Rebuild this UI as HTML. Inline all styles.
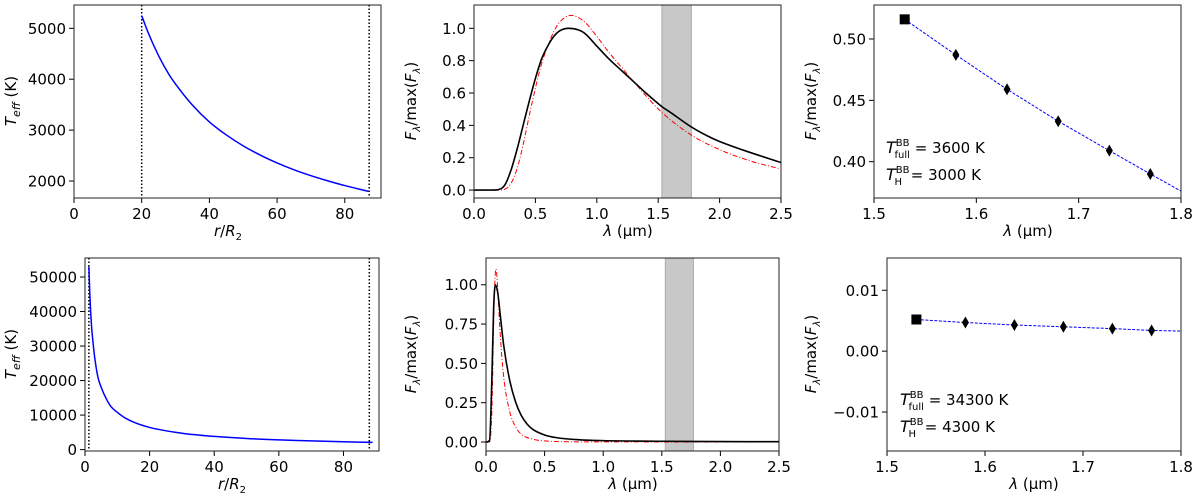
<!DOCTYPE html>
<html><head><meta charset="utf-8">
<style>
html,body{margin:0;padding:0;background:#fff;}
svg{display:block;font-family:"DejaVu Sans","Liberation Sans",sans-serif;}
</style></head>
<body>
<svg id="fig" width="1200" height="502" viewBox="0 0 1200 502" xmlns="http://www.w3.org/2000/svg"></svg>
<script>
// ---- data ----
const rTop = [20,22,25,28,30,35,40,45,50,55,60,65,70,75,80,87];
const tTop = [5250,4900,4460,4100,3905,3490,3160,2905,2690,2510,2355,2220,2105,2003,1910,1796];
const rBot = [1.2,1.5,2,2.5,3,4,5,6,8,10,12,15,20,30,40,50,60,70,80,89];
const tBot = [53000,44800,36100,30900,26700,21000,18100,15850,12500,10800,9420,7970,6420,4740,3820,3220,2820,2520,2280,2090];
const vlinesTop = [20,87.2];
const vlinesBot = [1.2,88];

const lamTopBlack = [0,0.15,0.2,0.25,0.3,0.35,0.4,0.45,0.5,0.55,0.6,0.65,0.7,0.77,0.85,0.9,1.0,1.1,1.2,1.3,1.4,1.53,1.6,1.77,1.9,2.0,2.2,2.5];
const fluxTopBlack = [0,0,0.003,0.03,0.12,0.25,0.40,0.55,0.69,0.81,0.89,0.95,0.985,1.0,0.99,0.97,0.89,0.81,0.74,0.67,0.60,0.516,0.48,0.39,0.335,0.30,0.245,0.17];
const lamTopRed = [0,0.2,0.25,0.3,0.35,0.4,0.45,0.5,0.55,0.6,0.65,0.7,0.79,0.9,1.0,1.1,1.2,1.3,1.53,1.77,2.0,2.25,2.5];
const fluxTopRed = [0,0,0.005,0.04,0.13,0.28,0.46,0.63,0.78,0.89,0.98,1.04,1.08,1.04,0.95,0.85,0.76,0.67,0.48,0.34,0.25,0.18,0.13];

const lamBotBlack = [0,0.03,0.05,0.065,0.08,0.1,0.12,0.15,0.2,0.25,0.3,0.35,0.4,0.5,0.6,0.8,1.0,1.5,2.0,2.5];
const fluxBotBlack = [0,0.01,0.4,0.85,1.0,0.95,0.82,0.62,0.40,0.26,0.17,0.115,0.08,0.045,0.028,0.014,0.009,0.005,0.003,0.002];
const lamBotRed = [0,0.03,0.05,0.07,0.085,0.1,0.12,0.15,0.2,0.25,0.3,0.4,0.5,0.7,1.0,2.5];
const fluxBotRed = [0,0,0.2,0.9,1.1,0.98,0.7,0.42,0.2,0.1,0.05,0.018,0.007,0.002,0.001,0];
const band = [1.53,1.77];

const lamPts = [1.58,1.63,1.68,1.73,1.77];
const fluxPtsTop = [0.487,0.459,0.433,0.409,0.390];
const sqTop = [1.53,0.516];
const lineTopEnd = [1.8,0.376];
const fluxPtsBot = [0.0047,0.0043,0.0040,0.0037,0.0034];
const sqBot = [1.53,0.0052];
const lineBotEnd = [1.8,0.0033];

const NS="http://www.w3.org/2000/svg";
const svg=document.getElementById('fig');
function mk(tag,attrs,parent){const e=document.createElementNS(NS,tag);for(const k in attrs)e.setAttribute(k,attrs[k]);(parent||svg).appendChild(e);return e;}

function panel(cfg){
  const g=mk('g',{});
  
  
  const sx=v=>cfg.px0+(v-cfg.xmin)/(cfg.xmax-cfg.xmin)*(cfg.px1-cfg.px0);
  const sy=v=>cfg.py1-(v-cfg.ymin)/(cfg.ymax-cfg.ymin)*(cfg.py1-cfg.py0);
  cfg.sx=sx;cfg.sy=sy;cfg.g=g;
  cfg.xticks.forEach((t,i)=>{
    const x=sx(t);
    const l=mk('line',{x1:x,x2:x,y1:cfg.py1,y2:cfg.py1+5,stroke:'#000','stroke-width':1},g);
    
    
    const tx=mk('text',{x:x,y:cfg.py1+21,'font-size':15,'text-anchor':'middle',fill:'#000'},g);
    tx.textContent=cfg.xlabels[i];
    
    
  });
  cfg.yticks.forEach((t,i)=>{
    const y=sy(t);
    const l=mk('line',{x1:cfg.px0-5,x2:cfg.px0,y1:y,y2:y,stroke:'#000','stroke-width':1},g);
    
    
    const tx=mk('text',{x:cfg.px0-8,y:y+5.5,'font-size':15,'text-anchor':'end',fill:'#000'},g);
    tx.textContent=cfg.ylabels[i];
    
    
  });
  return cfg;
}
function frame(cfg){
  const r=mk('rect',{x:cfg.px0,y:cfg.py0,width:cfg.px1-cfg.px0,height:cfg.py1-cfg.py0,fill:'none',stroke:'#222','stroke-width':1},cfg.g);
  
  
}
function smoothPath(P){
  const n=P.length; if(n<3) return 'M'+P.map(p=>p.join(',')).join(' L');
  const d=[],m=new Array(n);
  for(let i=0;i<n-1;i++){const dx=P[i+1][0]-P[i][0];d.push(dx===0?0:(P[i+1][1]-P[i][1])/dx);}
  m[0]=d[0];m[n-1]=d[n-2];
  for(let i=1;i<n-1;i++){m[i]=(d[i-1]*d[i]<=0)?0:(d[i-1]+d[i])/2;}
  for(let i=0;i<n-1;i++){if(d[i]===0){m[i]=0;m[i+1]=0;continue;}const a=m[i]/d[i],b=m[i+1]/d[i],s=a*a+b*b;if(s>9){const t=3/Math.sqrt(s);m[i]=t*a*d[i];m[i+1]=t*b*d[i];}}
  let s='M'+P[0][0].toFixed(2)+','+P[0][1].toFixed(2);
  for(let i=0;i<n-1;i++){const h=(P[i+1][0]-P[i][0])/3;
    s+=' C'+(P[i][0]+h).toFixed(2)+','+(P[i][1]+m[i]*h).toFixed(2)+' '+(P[i+1][0]-h).toFixed(2)+','+(P[i+1][1]-m[i+1]*h).toFixed(2)+' '+P[i+1][0].toFixed(2)+','+P[i+1][1].toFixed(2);}
  return s;
}
function curve(cfg,xs,ys,attrs,name){
  const P=xs.map((x,i)=>[cfg.sx(x),cfg.sy(ys[i])]);
  const p=mk('path',Object.assign({d:smoothPath(P),fill:'none'},attrs),cfg.g);
  
  
  return p;
}
function poly(cfg,xs,ys,attrs,name){
  const pts=xs.map((x,i)=>cfg.sx(x).toFixed(2)+','+cfg.sy(ys[i]).toFixed(2)).join(' ');
  const p=mk('polyline',Object.assign({points:pts,fill:'none'},attrs),cfg.g);
  
  
  return p;
}
function label(x,y,html,rot,name){
  const t=mk('text',{x:x,y:y,'font-size':15,'text-anchor':'middle',fill:'#000'});
  if(rot)t.setAttribute('transform','rotate(-90 '+x+' '+y+')');
  t.innerHTML=html;
  
  
}

// ---- Panel 1 ----
const p1=panel({name:'teff-panel-top',px0:74,px1:381,py0:5,py1:198,xmin:0,xmax:90.7,ymin:1666,ymax:5458,
 xticks:[0,20,40,60,80],xlabels:['0','20','40','60','80'],yticks:[2000,3000,4000,5000],ylabels:['2000','3000','4000','5000']});
vlinesTop.forEach(v=>{const l=mk('line',{x1:p1.sx(v),x2:p1.sx(v),y1:p1.py0,y2:p1.py1,stroke:'#000','stroke-width':1.5,'stroke-dasharray':'1.5,2'},p1.g);});
curve(p1,rTop,tTop,{stroke:'#0000ff','stroke-width':1.5},'teff-curve-top');
frame(p1);

// ---- Panel 2 ----
const p2=panel({name:'spectrum-panel-top',px0:474,px1:781,py0:5,py1:198,xmin:0,xmax:2.5,ymin:-0.049,ymax:1.144,
 xticks:[0,0.5,1,1.5,2,2.5],xlabels:['0.0','0.5','1.0','1.5','2.0','2.5'],yticks:[0,0.2,0.4,0.6,0.8,1.0],ylabels:['0.0','0.2','0.4','0.6','0.8','1.0']});
{const b=mk('rect',{x:p2.sx(band[0]),y:p2.py0,width:p2.sx(band[1])-p2.sx(band[0]),height:p2.py1-p2.py0,fill:'#c8c8c8',stroke:'#aaa','stroke-width':1},p2.g);}
curve(p2,lamTopRed,fluxTopRed,{stroke:'#ff0000','stroke-width':1,'stroke-dasharray':'5,2,1,2'},'bb-fit-curve-top');
curve(p2,lamTopBlack,fluxTopBlack,{stroke:'#000','stroke-width':1.6},'disk-spectrum-top');
frame(p2);

// ---- Panel 3 ----
const p3=panel({name:'hband-panel-top',px0:874,px1:1181,py0:5,py1:198,xmin:1.5,xmax:1.8,ymin:0.3704,ymax:0.5277,
 xticks:[1.5,1.6,1.7,1.8],xlabels:['1.5','1.6','1.7','1.8'],yticks:[0.40,0.45,0.50],ylabels:['0.40','0.45','0.50']});
poly(p3,[sqTop[0]].concat(lamPts,[lineTopEnd[0]]),[sqTop[1]].concat(fluxPtsTop,[lineTopEnd[1]]),{stroke:'#0000ff','stroke-width':1,'stroke-dasharray':'3,1.5'},'hband-fit-line-top');
lamPts.forEach((l,i)=>{const x=p3.sx(l),y=p3.sy(fluxPtsTop[i]);const d=mk('polygon',{points:`${x},${y-6} ${x+3.5},${y} ${x},${y+6} ${x-3.5},${y}`,fill:'#000'},p3.g);});
{const x=p3.sx(sqTop[0]),y=p3.sy(sqTop[1]);const s=mk('rect',{x:x-5,y:y-5,width:10,height:10,fill:'#000'},p3.g);}
frame(p3);

// ---- Panel 4 ----
const p4=panel({name:'teff-panel-bottom',px0:85,px1:379,py0:258,py1:451,xmin:0,xmax:91,ymin:-400,ymax:55500,
 xticks:[0,20,40,60,80],xlabels:['0','20','40','60','80'],yticks:[0,10000,20000,30000,40000,50000],ylabels:['0','10000','20000','30000','40000','50000']});
vlinesBot.forEach(v=>{const l=mk('line',{x1:p4.sx(v),x2:p4.sx(v),y1:p4.py0,y2:p4.py1,stroke:'#000','stroke-width':1.5,'stroke-dasharray':'1.5,2'},p4.g);});
curve(p4,rBot,tBot,{stroke:'#0000ff','stroke-width':1.5},'teff-curve-bottom');
frame(p4);

// ---- Panel 5 ----
const p5=panel({name:'spectrum-panel-bottom',px0:486,px1:779,py0:258,py1:451,xmin:0,xmax:2.5,ymin:-0.057,ymax:1.17,
 xticks:[0,0.5,1,1.5,2,2.5],xlabels:['0.0','0.5','1.0','1.5','2.0','2.5'],yticks:[0,0.25,0.5,0.75,1.0],ylabels:['0.00','0.25','0.50','0.75','1.00']});
{const b=mk('rect',{x:p5.sx(band[0]),y:p5.py0,width:p5.sx(band[1])-p5.sx(band[0]),height:p5.py1-p5.py0,fill:'#c8c8c8',stroke:'#aaa','stroke-width':1},p5.g);}
curve(p5,lamBotRed,fluxBotRed,{stroke:'#ff0000','stroke-width':1,'stroke-dasharray':'5,2,1,2'},'bb-fit-curve-bottom');
curve(p5,lamBotBlack,fluxBotBlack,{stroke:'#000','stroke-width':1.6},'disk-spectrum-bottom');
frame(p5);

// ---- Panel 6 ----
const p6=panel({name:'hband-panel-bottom',px0:887,px1:1181,py0:258,py1:451,xmin:1.5,xmax:1.8,ymin:-0.0164,ymax:0.0153,
 xticks:[1.5,1.6,1.7,1.8],xlabels:['1.5','1.6','1.7','1.8'],yticks:[-0.01,0,0.01],ylabels:['\u22120.01','0.00','0.01']});
poly(p6,[sqBot[0]].concat(lamPts,[lineBotEnd[0]]),[sqBot[1]].concat(fluxPtsBot,[lineBotEnd[1]]),{stroke:'#0000ff','stroke-width':1,'stroke-dasharray':'3,1.5'},'hband-fit-line-bottom');
lamPts.forEach((l,i)=>{const x=p6.sx(l),y=p6.sy(fluxPtsBot[i]);const d=mk('polygon',{points:`${x},${y-6} ${x+3.5},${y} ${x},${y+6} ${x-3.5},${y}`,fill:'#000'},p6.g);});
{const x=p6.sx(sqBot[0]),y=p6.sy(sqBot[1]);const s=mk('rect',{x:x-5,y:y-5,width:10,height:10,fill:'#000'},p6.g);}
frame(p6);

// ---- axis labels ----
const teffLbl='<tspan font-style="italic">T</tspan><tspan font-style="italic" font-size="11" dy="4">eff</tspan><tspan dy="-4"> (K)</tspan>';
const fLbl='<tspan font-style="italic">F</tspan><tspan font-style="italic" font-size="10" dy="4">λ</tspan><tspan dy="-4">/max(</tspan><tspan font-style="italic">F</tspan><tspan font-style="italic" font-size="10" dy="4">λ</tspan><tspan dy="-4">)</tspan>';
const rLbl='<tspan font-style="italic">r</tspan>/<tspan font-style="italic">R</tspan><tspan font-size="10" dy="4">2</tspan>';
const lamLbl='<tspan font-style="italic">λ</tspan> (µm)';
label(16,101,teffLbl,true,'y-axis-title-teff-top');
label(16,354,teffLbl,true,'y-axis-title-teff-bottom');
label(416,101,fLbl,true,'y-axis-title-flux-top');
label(416,354,fLbl,true,'y-axis-title-flux-bottom');
label(816,101,fLbl,true,'y-axis-title-hband-top');
label(816,354,fLbl,true,'y-axis-title-hband-bottom');
label(228,236,rLbl,false,'x-axis-title-r-top');
label(232,489,rLbl,false,'x-axis-title-r-bottom');
label(628,236,lamLbl,false,'x-axis-title-lambda-top');
label(633,489,lamLbl,false,'x-axis-title-lambda-bottom');
label(1028,236,lamLbl,false,'x-axis-title-lambda-hband-top');
label(1034,489,lamLbl,false,'x-axis-title-lambda-hband-bottom');

function tAnn(x,y,sub,val,name){
  const t=mk('text',{x:x,y:y,'font-size':15,fill:'#000'});
  t.innerHTML='<tspan font-style="italic" font-size="16">T</tspan><tspan font-size="10" dy="-7">BB</tspan><tspan font-size="10" dx="-15" dy="12">'+sub+'</tspan><tspan dy="-5"> = '+val+'</tspan>';
  
  
}
tAnn(886,153,'full','3600 K','t-full-annotation-top');
tAnn(886,180,'H\u2009\u2009','3000 K','t-h-annotation-top');
tAnn(900,405,'full','34300 K','t-full-annotation-bottom');
tAnn(900,432,'H\u2009\u2009','4300 K','t-h-annotation-bottom');
</script>
</body></html>
